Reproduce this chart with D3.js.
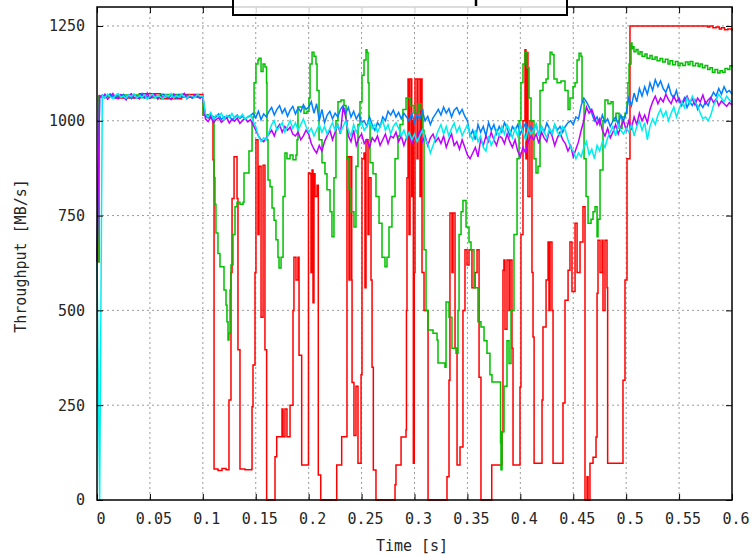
<!DOCTYPE html>
<html>
<head>
<meta charset="utf-8">
<script src="https://cdn.jsdelivr.net/npm/d3@7"></script>
<style>
  html, body { margin: 0; padding: 0; background: #fff; }
  svg { display: block; }
  .tick text { font-family: "DejaVu Sans Mono", "Liberation Mono", monospace; font-size: 15px; fill: #262626; }
  .lbl { font-family: "DejaVu Sans Mono", "Liberation Mono", monospace; font-size: 15px; fill: #262626; }
</style>
</head>
<body>
<svg id="chart" width="753" height="558"></svg>
<script>
// Axis ticks
const timeTicks = [0, 0.05, 0.1, 0.15, 0.2, 0.25, 0.3, 0.35, 0.4, 0.45, 0.5, 0.55, 0.6];
const rateTicks = [0, 250, 500, 750, 1000, 1250];

// Flow 1 (red): step-like trace, stored as time/rate pairs (each rate holds until the next time)
const redTime = [0,0.0019,0.02,0.04,0.06,0.08,0.1,0.1003,0.105,0.1096,0.1096,0.1106,0.1106,0.1143,0.1181,0.1219,0.1247,0.1247,0.1261,0.1266,0.1276,0.1295,0.1313,0.1323,0.1332,0.1347,0.1351,0.1398,0.1462,0.1465,0.1474,0.1493,0.1502,0.1521,0.1531,0.1550,0.1569,0.1587,0.1603,0.1603,0.1682,0.1682,0.1698,0.1739,0.1748,0.1758,0.1776,0.1795,0.1814,0.1824,0.1843,0.1852,0.1861,0.1880,0.1899,0.1909,0.1928,0.1934,0.1998,0.1998,0.2013,0.2022,0.2032,0.2041,0.2050,0.2060,0.2079,0.2091,0.2091,0.2114,0.2114,0.2265,0.2265,0.2312,0.2312,0.2359,0.2362,0.2381,0.2391,0.2407,0.2410,0.2428,0.2447,0.2466,0.2485,0.2495,0.2504,0.2523,0.2532,0.2542,0.2561,0.2570,0.2589,0.2599,0.2611,0.2611,0.2627,0.2636,0.2816,0.2816,0.2825,0.2873,0.2873,0.2910,0.2920,0.2924,0.2929,0.2939,0.2948,0.2958,0.2974,0.2976,0.2989,0.2998,0.3005,0.3024,0.3033,0.3052,0.3062,0.3071,0.3090,0.3109,0.3128,0.3307,0.3307,0.3326,0.3335,0.3354,0.3364,0.3383,0.3402,0.3430,0.3430,0.3449,0.3458,0.3477,0.3496,0.3515,0.3543,0.3572,0.3591,0.3610,0.3628,0.3730,0.3730,0.3824,0.3827,0.3836,0.3845,0.3855,0.3874,0.3893,0.3903,0.3921,0.3931,0.3997,0.3997,0.4006,0.4025,0.4044,0.4053,0.4063,0.4072,0.4091,0.4110,0.4120,0.4130,0.4205,0.4205,0.4214,0.4243,0.4262,0.4271,0.4281,0.4299,0.4309,0.4394,0.4403,0.4422,0.4451,0.4469,0.4488,0.4517,0.4536,0.4564,0.4592,0.4611,0.4611,0.4630,0.4640,0.4658,0.4687,0.4715,0.4725,0.4734,0.4753,0.4772,0.4781,0.4800,0.4819,0.4825,0.4970,0.4970,0.4989,0.5008,0.5036,0.5745,0.577,0.579,0.582,0.585,0.588,0.590,0.593,0.596,0.6];
const redRate = [628,1065,1060,1071,1058,1069,1064,1015,1008,1012,897,897,82,78,83,80,82,264,264,600,795,905,905,795,396,396,82,80,82,246,356,600,950,700,880,482,883,396,396,0,0,114,167,167,240,167,240,167,167,250,250,500,640,580,640,382,382,92,92,862,860,600,870,520,860,800,830,660,66,66,0,0,92,92,167,167,905,580,905,580,310,170,300,97,97,330,900,915,560,950,700,850,580,350,350,79,79,0,0,40,92,92,166,166,185,500,850,1110,700,1110,800,1000,97,600,1110,900,1110,800,1110,600,500,500,0,0,61,316,757,600,757,400,92,92,140,140,500,660,620,660,560,600,660,324,0,0,92,92,180,606,633,450,633,500,633,400,92,92,298,700,1000,1187,900,1180,800,1000,600,430,97,97,264,456,580,680,500,680,500,97,97,256,527,606,680,550,730,600,680,773,493,0,61,0,97,113,166,545,685,600,685,500,685,560,97,97,316,580,900,1250,1250,1247,1250,1245,1247,1242,1245,1240,1242,1237];

// Flow 2 (green)
const greenTime = [0,0.0019,0.02,0.04,0.06,0.08,0.1,0.1003,0.105,0.1096,0.1106,0.1115,0.1124,0.1143,0.1162,0.1200,0.1219,0.1228,0.1238,0.1247,0.1257,0.1266,0.1285,0.1304,0.1323,0.1351,0.1380,0.1389,0.1417,0.1436,0.1465,0.1474,0.1484,0.1502,0.1521,0.1531,0.1550,0.1569,0.1587,0.1602,0.1606,0.1616,0.1635,0.1654,0.1673,0.1691,0.1710,0.1720,0.1739,0.1758,0.1776,0.1795,0.1824,0.1852,0.1880,0.1890,0.1899,0.1937,0.1956,0.1984,0.2003,0.2013,0.2032,0.2050,0.2069,0.2079,0.2098,0.2126,0.2154,0.2173,0.2202,0.2220,0.2239,0.2258,0.2277,0.2306,0.2334,0.2353,0.2362,0.2381,0.2400,0.2428,0.2447,0.2466,0.2485,0.2504,0.2523,0.2542,0.2551,0.2561,0.2570,0.2580,0.2608,0.2636,0.2665,0.2693,0.2721,0.2740,0.2759,0.2787,0.2816,0.2844,0.2863,0.2891,0.2920,0.2958,0.2995,0.3033,0.3062,0.3080,0.3090,0.3109,0.3128,0.3175,0.3213,0.3222,0.3288,0.3298,0.3326,0.3345,0.3354,0.3392,0.3411,0.3421,0.3440,0.3458,0.3487,0.3515,0.3534,0.3562,0.3600,0.3628,0.3657,0.3685,0.3713,0.3732,0.3808,0.3813,0.3817,0.3827,0.3846,0.3874,0.3893,0.3912,0.3940,0.3969,0.3988,0.4006,0.4025,0.4044,0.4063,0.4082,0.4101,0.4129,0.4148,0.4167,0.4186,0.4214,0.4243,0.4262,0.4281,0.4299,0.4318,0.4347,0.4384,0.4422,0.4451,0.4469,0.4498,0.4517,0.4536,0.4555,0.4573,0.4583,0.4602,0.4621,0.4640,0.4668,0.4687,0.4706,0.4725,0.4734,0.4753,0.4781,0.4800,0.4828,0.4857,0.4876,0.4904,0.4933,0.4961,0.4989,0.5008,0.5017,0.5027,0.5046,0.5055,0.5064,0.5074,0.5093,0.5112,0.5131,0.5150,0.5178,0.5197,0.5225,0.5245,0.5273,0.5292,0.5320,0.5345,0.5370,0.5395,0.5414,0.5440,0.5465,0.5490,0.5509,0.5535,0.5560,0.5585,0.5603,0.5630,0.5655,0.5680,0.5698,0.5720,0.5745,0.5770,0.5792,0.5815,0.5839,0.5865,0.5887,0.5910,0.5934,0.5960,0.5980,0.6];
const greenRate = [628,1065,1068,1061,1069,1063,1066,1015,1011,1010,850,780,704,650,615,554,514,470,422,440,554,620,700,773,785,780,785,862,862,920,994,1010,1100,1150,1160,1165,1130,1150,1142,1100,950,844,826,770,738,686,640,612,640,800,915,900,910,897,910,950,1036,1036,1020,1025,1060,1150,1181,1170,1150,1080,950,889,860,818,760,694,850,1000,1050,1055,1040,1000,900,820,760,720,880,990,1050,1120,1160,1187,1180,1100,1000,889,860,800,730,640,615,640,720,800,900,960,990,1030,1060,1040,1020,1045,1030,975,660,500,448,440,422,361,350,522,482,482,400,387,500,700,760,790,720,680,660,560,470,456,420,387,330,311,311,150,80,180,300,420,360,500,700,900,1000,1100,1150,1180,1140,1060,1000,900,862,880,1080,1100,1110,1150,1181,1175,1110,1100,1105,1080,1030,1060,1090,1100,1160,1178,1170,1050,900,800,730,740,760,773,694,740,870,1000,1055,1045,1050,1000,1020,980,1010,1020,1050,1100,1150,1205,1190,1195,1182,1188,1176,1182,1170,1176,1165,1172,1162,1168,1158,1164,1155,1162,1150,1158,1148,1156,1145,1152,1146,1155,1148,1156,1145,1152,1143,1150,1140,1146,1135,1140,1128,1135,1126,1132,1128,1138,1135,1145,1142];

// Flows 3-5, sampled every 2.5 ms from 0 to 0.6 s
const sampleStep = 0.0025;
const blueRate = [628,
1062,1068,1060,1066,1071,1063,1059,1067,1064,1070,1061,1066,1058,1069,1063,1067,1072,1060,1065,1062,1068,1064,1059,1066,1070,1063,1061,1067,1065,1060,1069,1064,1062,1068,1066,1059,1063,1067,1064,1062,
1012,1008,1016,1005,1010,1018,1003,1011,1007,1014,1002,1009,1015,1006,1012,1004,1010,1013,
1020,1008,1025,1003,1018,1010,
1025,1035,1015,1030,1040,1020,1032,1012,1028,1038,1018,1034,1024,1042,1030,1036,
1050,1020,1045,1000,1030,995,1015,1025,1005,1020,1010,1030,
1040,1020,1035,1010,1025,1005,1018,995,1000,985,1010,990,
975,995,985,1010,1000,1025,1015,1028,1010,1022,1005,1020,
1010,1000,1020,995,1015,1005,1025,1000,1012,990,1008,1018,
1030,1015,1036,1020,1032,1010,1028,1035,1018,1030,1012,1000,
960,975,950,990,970,985,960,995,975,990,965,985,
970,995,980,960,985,975,990,965,980,994,970,985,
975,990,960,985,970,994,980,965,990,975,985,970,
985,995,1000,990,1010,1005,1040,1060,1050,1036,1020,1000,
1010,990,1015,995,1005,985,1000,1010,990,1015,1000,1020,
1060,1040,1073,1050,1085,1065,1090,1070,1100,1080,1108,1090,
1105,1085,1075,1095,1070,1060,1080,1050,1045,1060,1035,1050,
1040,1055,1030,1045,1035,1050,1040,1060,1075,1065,1085,1070,1090,1075,1080,1070];
const purpleRate = [628,
1066,1060,1070,1057,1064,1072,1061,1058,1069,1063,1055,1067,1071,1060,1065,1058,1068,1062,1073,1059,1064,1070,1057,1066,1061,1068,1063,1056,1070,1065,1060,1067,1072,1058,1064,1061,1069,1063,1059,1066,
1005,998,1010,995,1003,1008,996,1002,1009,994,1004,999,1007,993,1001,1006,997,1003,
990,975,960,950,945,955,
965,975,960,980,990,970,985,975,983,965,960,970,950,960,975,965,
940,925,915,935,920,945,960,975,950,970,990,965,
1036,1010,960,945,975,935,955,965,940,950,930,955,
945,960,935,950,965,940,960,955,970,945,960,935,
955,965,940,960,950,975,945,960,935,955,965,945,
955,940,960,930,950,965,935,945,925,950,930,910,
900,915,930,905,950,935,960,945,970,950,935,960,
955,940,965,945,930,950,920,905,930,915,945,960,
950,965,940,970,955,945,975,960,935,955,970,950,
940,920,935,905,925,945,975,1000,1036,1020,1030,1010,
990,1005,975,960,980,955,970,990,965,985,1000,975,
1000,980,1010,990,1020,1000,1015,995,1030,1050,1065,1045,
1060,1050,1070,1055,1045,1065,1050,1060,1040,1055,1065,1048,
1058,1042,1060,1050,1068,1045,1055,1062,1048,1058,1040,1052,1045,1038,1048,1042];
const cyanRate = [628,0,
1066,1061,1070,1063,1058,1067,1072,1062,1065,1059,1068,1064,1071,1060,1066,1062,1069,1057,1065,1070,1061,1067,1063,1058,1068,1064,1072,1060,1066,1062,1069,1063,1059,1067,1065,1061,1070,1064,1066,
1018,1010,1022,1005,1015,1012,1020,1003,1014,1008,1019,1006,1013,1009,1017,1004,1011,1015,
1000,985,960,945,955,950,
970,990,1000,975,985,995,970,985,1000,980,995,975,990,1005,985,970,
980,960,975,990,970,985,965,980,995,975,990,970,
985,1000,975,960,990,970,985,995,975,985,1000,980,
990,970,985,1000,975,990,965,985,995,980,960,975,
955,970,950,965,945,960,975,950,940,915,935,955,
975,990,965,985,960,980,994,970,985,960,975,990,
965,950,975,945,960,930,920,960,935,950,975,960,
985,965,990,975,955,980,960,990,970,950,980,965,
975,990,960,985,970,955,980,965,990,970,960,985,
975,950,930,920,900,915,905,930,945,910,925,900,
935,920,945,930,955,970,985,960,990,975,965,980,
970,990,960,985,1000,975,995,950,985,1005,990,1015,
1030,1010,1025,1000,1020,1036,1010,1030,1050,1035,1060,1045,
1065,1050,1040,1020,1005,1010,1000,1015,1040,1055,1070,1060,1050,1065,1055,1048];

const svg = d3.select("#chart");
const plotL = 97, plotR = 732, plotT = 7, plotB = 500;
const x = d3.scaleLinear().domain([0, 0.6]).range([plotL, plotR]);
const y = d3.scaleLinear().domain([0, 1300]).range([plotB, plotT]);

// Dotted grid
const grid = svg.append("g").attr("stroke", "#9a9a9a").attr("stroke-width", 1).attr("stroke-dasharray", "2,3");
grid.selectAll("line.v").data(timeTicks.slice(1, -1)).join("line").attr("class", "v")
  .attr("x1", d => x(d)).attr("x2", d => x(d)).attr("y1", plotT).attr("y2", plotB);
grid.selectAll("line.h").data(rateTicks.slice(1)).join("line").attr("class", "h")
  .attr("x1", plotL).attr("x2", plotR).attr("y1", d => y(d)).attr("y2", d => y(d));

// Series: the two bursty flows are drawn as steps, the steady ones as plain polylines
const stepLine = d3.line().curve(d3.curveStepAfter).x(d => x(d[0])).y(d => y(d[1]));
const plainLine = d3.line().x(d => x(d[0])).y(d => y(d[1]));
const pairs = (ts, vs) => ts.map((t, i) => [t, vs[i]]);
const sampled = vs => vs.map((v, i) => [i * sampleStep, v]);
const series = [
  { data: pairs(redTime, redRate), color: "#ff0000", gen: stepLine },
  { data: pairs(greenTime, greenRate), color: "#00c000", gen: stepLine },
  { data: sampled(blueRate), color: "#0080ff", gen: plainLine },
  { data: sampled(purpleRate), color: "#c000ff", gen: plainLine },
  { data: sampled(cyanRate), color: "#00eeee", gen: plainLine }
];
svg.append("g").selectAll("path").data(series).join("path")
  .attr("fill", "none")
  .attr("stroke", d => d.color)
  .attr("stroke-width", 1.5)
  .attr("d", d => d.gen(d.data));

// Axes with inward ticks on all four sides
const fmtT = d => d === 0 ? "0" : String(+d.toFixed(2));
const xAxis = svg.append("g").attr("transform", `translate(0,${plotB})`)
  .call(d3.axisBottom(x).tickValues(timeTicks).tickSize(-6).tickPadding(13).tickFormat(fmtT));
xAxis.selectAll(".tick text").attr("dx", 3.5);
svg.append("g").attr("transform", `translate(0,${plotT})`)
  .call(d3.axisTop(x).tickValues(timeTicks).tickSize(-6).tickFormat(""));
svg.append("g").attr("transform", `translate(${plotL},0)`)
  .call(d3.axisLeft(y).tickValues(rateTicks).tickSize(-6).tickPadding(12).tickFormat(d3.format("d")));
svg.append("g").attr("transform", `translate(${plotR},0)`)
  .call(d3.axisRight(y).tickValues(rateTicks).tickSize(-6).tickFormat(""));
svg.selectAll(".domain").remove();
svg.selectAll(".tick line").attr("stroke", "#000").attr("stroke-width", 1);

// Frame
svg.append("rect").attr("x", plotL).attr("y", plotT).attr("width", plotR - plotL).attr("height", plotB - plotT)
  .attr("fill", "none").attr("stroke", "#000").attr("stroke-width", 1.5);

// Axis titles
svg.append("text").attr("class", "lbl").attr("x", 412).attr("y", 551).attr("text-anchor", "middle").text("Time [s]");
svg.append("text").attr("class", "lbl").attr("transform", "translate(26,256) rotate(-90)")
  .attr("text-anchor", "middle").text("Throughput [MB/s]");

// Key box at the top edge
const key = svg.append("g");
key.append("rect").attr("x", 233).attr("y", -30).attr("width", 334).attr("height", 45)
  .attr("fill", "#fff").attr("fill-opacity", 0.82).attr("stroke", "#000").attr("stroke-width", 2);
key.append("line").attr("x1", 476).attr("x2", 476).attr("y1", 0).attr("y2", 6)
  .attr("stroke", "#000").attr("stroke-width", 2.5);
</script>
</body>
</html>
